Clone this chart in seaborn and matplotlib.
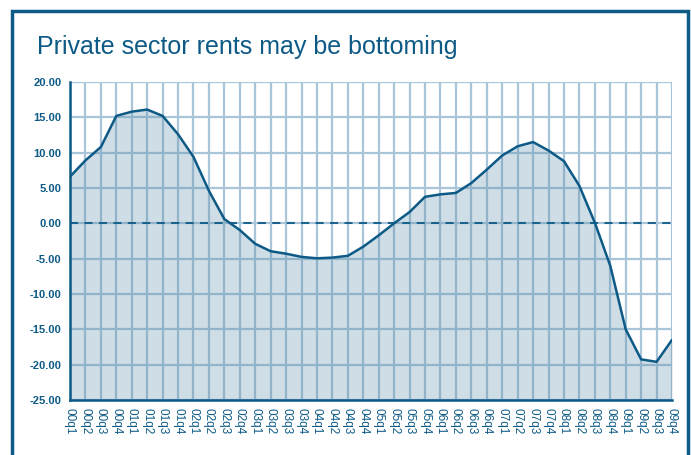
import matplotlib.pyplot as plt
import matplotlib.patches as mpatches
import pandas as pd
import seaborn as sns

# quarters 00q1 .. 09q4
years = ["00", "01", "02", "03", "04", "05", "06", "07", "08", "09"]
quarters = [f"{y}q{q}" for y in years for q in range(1, 5)]

rent_growth = [
    6.6, 8.9, 10.8, 15.2, 15.8, 16.1, 15.2, 12.6, 9.4, 4.6,
    0.6, -0.95, -2.9, -3.95, -4.3, -4.75, -4.95, -4.85, -4.6, -3.3,
    -1.7, 0.0, 1.6, 3.75, 4.1, 4.3, 5.7, 7.6, 9.6, 10.9,
    11.5, 10.3, 8.8, 5.3, 0.1, -6.0, -15.0, -19.25, -19.6, -16.5,
]

y_ticks = [20, 15, 10, 5, 0, -5, -10, -15, -20, -25]

DARK = "#0d5a86"
GRID = "#a9c5d9"
FILL = "#5f8fad"

df = pd.DataFrame({"quarter": quarters, "value": rent_growth})
df["pos"] = range(len(df))

sns.set_theme(style="white")
plt.rcParams["font.family"] = ["Liberation Sans", "DejaVu Sans"]

fig = plt.figure(figsize=(6.91, 4.55), dpi=100)
ax = fig.add_axes([0.1013, 0.1209, 0.8712, 0.6989])

# grid first, fill over it
for x in df["pos"]:
    ax.axvline(x, color=GRID, lw=1.6, zorder=0)
for y in y_ticks:
    ax.axhline(y, color=GRID, lw=1.6, zorder=0)

ax.fill_between(df["pos"], df["value"], -25, color=FILL, alpha=0.3, lw=0, zorder=1)
ax.axhline(0, color=DARK, lw=1.3, ls=(0, (4.5, 3.5)), zorder=2)
sns.lineplot(data=df, x="pos", y="value", ax=ax, color=DARK, lw=1.8, zorder=3)

ax.set_xlim(0, len(df) - 1)
ax.set_ylim(-25, 20)
ax.set_xticks(df["pos"])
ax.set_xticklabels(quarters, rotation=-90, fontsize=8.5, color=DARK)
ax.set_yticks(y_ticks)
ax.set_yticklabels([f"{v:.2f}" for v in y_ticks], fontsize=8, color=DARK, fontweight="bold")
ax.set_xlabel("")
ax.set_ylabel("")

ax.tick_params(axis="both", direction="out", length=4, width=1.5, color=DARK, pad=2)
for side in ["top", "right"]:
    ax.spines[side].set_visible(False)
for side in ["left", "bottom"]:
    ax.spines[side].set_color(DARK)
    ax.spines[side].set_linewidth(1.8)

# outer frame
frame = mpatches.Rectangle((12 / 691, -0.05), 676 / 691, 1 - 11 / 455 + 0.05,
                           transform=fig.transFigure, fill=False,
                           edgecolor=DARK, lw=2.5, clip_on=False)
fig.patches.append(frame)

fig.text(37 / 691, 1 - 47 / 455, "Private sector rents may be bottoming",
         fontsize=18, color=DARK, va="center", ha="left")

fig.savefig("out.png", dpi=100)
